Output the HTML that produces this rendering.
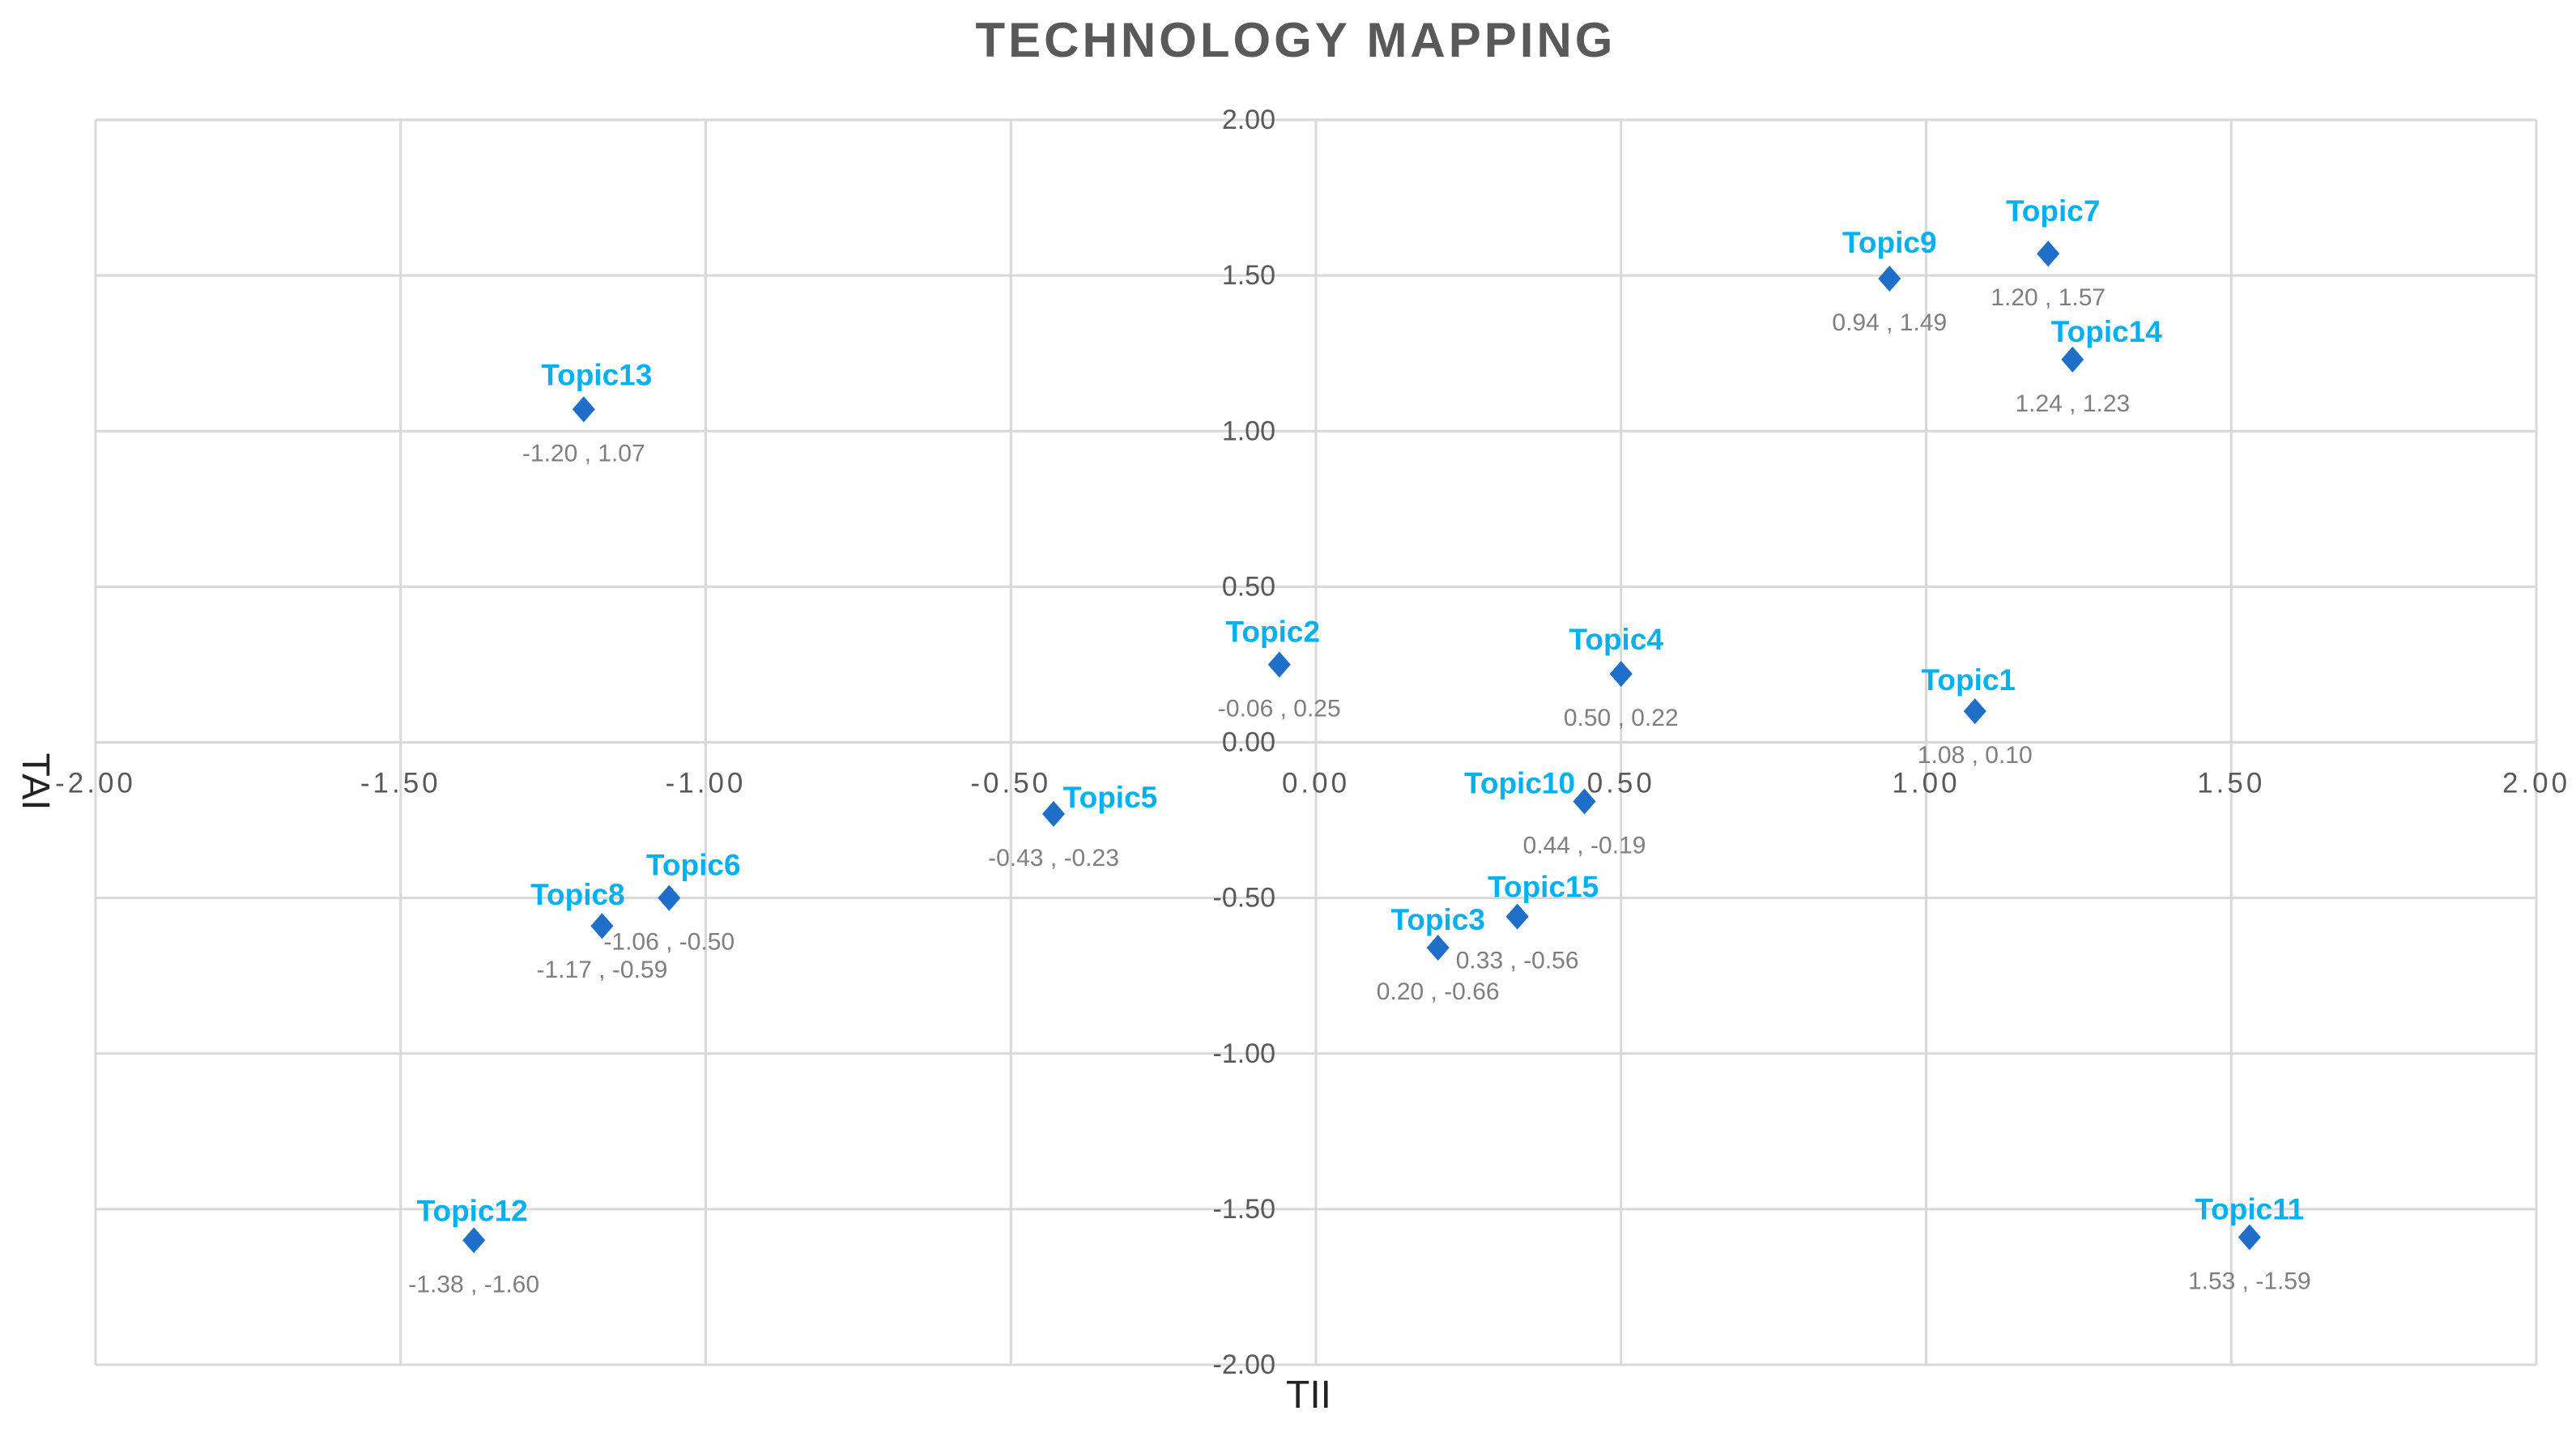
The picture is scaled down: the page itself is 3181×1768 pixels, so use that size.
<!DOCTYPE html>
<html><head><meta charset="utf-8"><style>
html,body{margin:0;padding:0;background:#fff;}
svg{display:block;font-family:"Liberation Sans",sans-serif;}
</style></head><body>
<svg id="chart" width="3181" height="1768" viewBox="0 0 3181 1768" xmlns="http://www.w3.org/2000/svg">
<rect width="3181" height="1768" fill="#fff"/>
<text x="1600" y="70" text-anchor="middle" font-size="60" font-weight="bold" fill="#595959" letter-spacing="4">TECHNOLOGY MAPPING</text>
<g id="grid"></g>
<g id="ticks"></g>
<g id="points"></g>
<text transform="translate(28,965) rotate(90)" text-anchor="middle" font-size="48" fill="#222">TAI</text>
<text x="1616" y="1738" text-anchor="middle" font-size="48" fill="#222">TII</text>
</svg>
<script>
const topicNames = ["Topic1","Topic2","Topic3","Topic4","Topic5","Topic6","Topic7","Topic8","Topic9","Topic10","Topic11","Topic12","Topic13","Topic14","Topic15"];
const tiiValues = [1.08,-0.06,0.20,0.50,-0.43,-1.06,1.20,-1.17,0.94,0.44,1.53,-1.38,-1.20,1.24,0.33];
const taiValues = [0.10,0.25,-0.66,0.22,-0.23,-0.50,1.57,-0.59,1.49,-0.19,-1.59,-1.60,1.07,1.23,-0.56];
const xTickValues = [-2,-1.5,-1,-0.5,0,0.5,1,1.5,2];
const yTickValues = [-2,-1.5,-1,-0.5,0,0.5,1,1.5,2];
// label placement offsets (layout, in px)
const nameDx = [-8,-8,0,-6,70,30,6,-30,0,-80,0,-2,16,42,32];
const nameDy = [-26,-28,-22,-30,-8,-28,-40,-26,-32,-10,-22,-24,-30,-22,-24];

const L=118,R=3132,T=148,B=1685,NS="http://www.w3.org/2000/svg";
const xs=v=>L+(v+2)/4*(R-L);
const ys=v=>B-(v+2)/4*(B-T);
function mk(tag,attrs,parent,txt){const e=document.createElementNS(NS,tag);for(const k in attrs)e.setAttribute(k,attrs[k]);if(txt!==undefined)e.textContent=txt;parent.appendChild(e);return e;}
const grid=document.getElementById('grid'),ticks=document.getElementById('ticks'),pts=document.getElementById('points');
xTickValues.forEach(v=>{
  const l=mk('line',{x1:xs(v),x2:xs(v),y1:T,y2:B,stroke:'#d9d9d9','stroke-width':3},grid);
  
  
  const t=mk('text',{x:xs(v),y:ys(0)+62,'text-anchor':'middle','font-size':35,fill:'#595959','letter-spacing':4},ticks,v.toFixed(2));
  
  
});
yTickValues.forEach(v=>{
  const l=mk('line',{x1:L,x2:R,y1:ys(v),y2:ys(v),stroke:'#d9d9d9','stroke-width':3},grid);
  
  
  const t=mk('text',{x:xs(0)-50,y:ys(v)+11,'text-anchor':'end','font-size':34,fill:'#595959'},ticks,v.toFixed(2));
  
  
});
topicNames.forEach((n,i)=>{
  const x=xs(tiiValues[i]),y=ys(taiValues[i]);
  const g=mk('g',{},pts);
  
  
  const d=mk('polygon',{points:`${x},${y-16} ${x+14},${y} ${x},${y+16} ${x-14},${y}`,fill:'#1f6fc8'},g);
  
  
  const nt=mk('text',{x:x+nameDx[i],y:y+nameDy[i],'text-anchor':'middle','font-size':37,'font-weight':'bold',fill:'#00b0f0'},g,n);
  
  
  const vt=mk('text',{x:x,y:y+64,'text-anchor':'middle','font-size':30,fill:'#7f7f7f'},g,tiiValues[i].toFixed(2)+' , '+taiValues[i].toFixed(2));
  
  
});
</script>
</body></html>
